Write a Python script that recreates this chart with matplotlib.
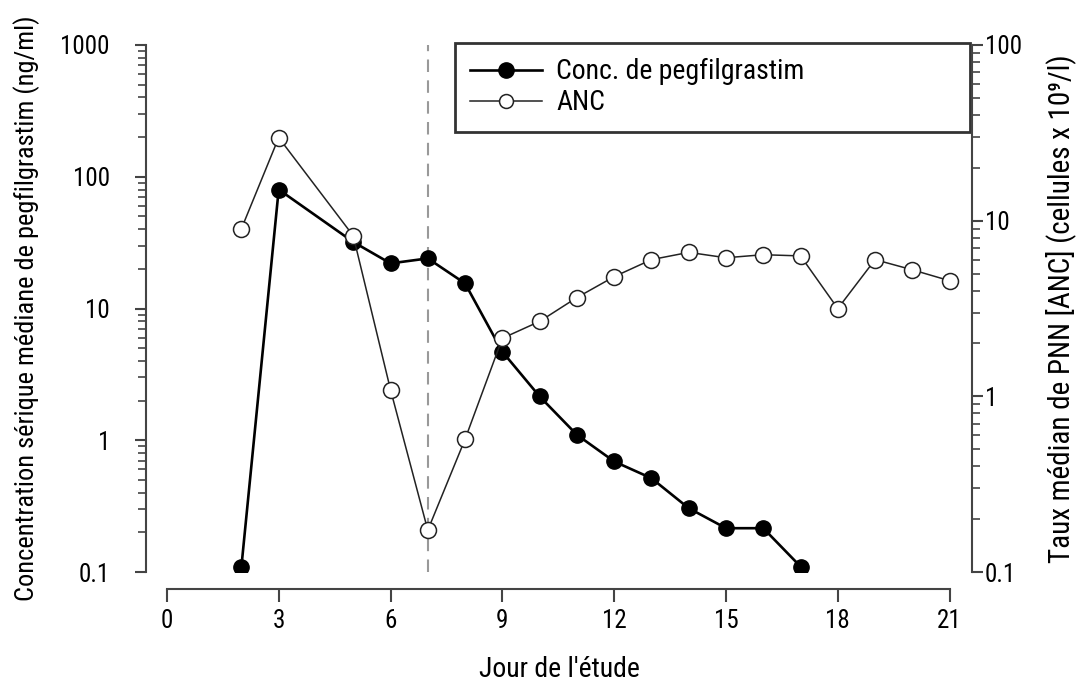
import matplotlib
matplotlib.use("Agg")
import matplotlib.pyplot as plt
from matplotlib.ticker import LogLocator, FixedLocator, FixedFormatter, NullFormatter

plt.rcParams['font.family'] = ['Roboto Condensed', 'DejaVu Sans']

# pegfilgrastim serum concentration (ng/ml)
peg_days = [2, 3, 5, 6, 7, 8, 9, 10, 11, 12, 13, 14, 15, 16, 17]
peg_conc = [0.11, 80, 32, 22, 24, 15.5, 4.7, 2.15, 1.1, 0.69, 0.515, 0.305, 0.215, 0.215, 0.11]

# ANC (x 10^9/l)
anc_days = [2, 3, 5, 6, 7, 8, 9, 10, 11, 12, 13, 14, 15, 16, 17, 18, 19, 20, 21]
anc_vals = [9.0, 29.7, 8.2, 1.09, 0.173, 0.57, 2.14, 2.67, 3.65, 4.8, 6.0, 6.6, 6.15, 6.4, 6.3, 3.16, 6.0, 5.25, 4.55]

x_ticks = [0, 3, 6, 9, 12, 15, 18, 21]
left_ticks = [0.1, 1, 10, 100, 1000]
left_labels = ['0.1', '1', '10', '100', '1000']
right_ticks = [0.1, 1, 10, 100]
right_labels = ['0.1', '1', '10', '100']

spine_col = '#444444'
fs = 18

fig = plt.figure(figsize=(10.78, 6.83), dpi=100)
ax = fig.add_axes([146/1078, 1 - 572/683, (972 - 146)/1078, (572 - 45)/683])
ax2 = ax.twinx()

ax.set_yscale('log')
ax2.set_yscale('log')
ax.set_ylim(0.1, 1000)
ax2.set_ylim(0.1, 100)
ax.set_xlim(-0.56, 21.6)

ax.axvline(7, color='#999999', lw=1.5, ls=(0, (6, 4)), zorder=1)

ax.plot(peg_days, peg_conc, color='black', lw=1.9, marker='o', ms=11,
        mfc='black', mec='black', zorder=4, label='Conc. de pegfilgrastim')
ax2.plot(anc_days, anc_vals, color='#222222', lw=1.1, marker='o', ms=11.5,
         mfc='white', mec='#222222', mew=1.1, zorder=4)
# proxy for legend
ax.plot([], [], color='#222222', lw=1.1, marker='o', ms=10, mfc='white',
        mec='#222222', mew=1.1, label='ANC')

for a in (ax, ax2):
    a.spines['top'].set_visible(False)
    for s in ('left', 'right', 'bottom'):
        a.spines[s].set_color(spine_col)
        a.spines[s].set_linewidth(1.5)
ax.spines['right'].set_visible(False)
ax2.spines['left'].set_visible(False)
ax2.spines['bottom'].set_visible(False)
ax.spines['bottom'].set_position(('outward', 12))
ax.spines['bottom'].set_bounds(0, 21)

ax.set_xticks(x_ticks)
ax.set_xticklabels([str(t) for t in x_ticks])
ax.tick_params(axis='x', direction='out', length=9, width=1.5, color=spine_col,
               labelsize=fs, pad=6)

ax.yaxis.set_major_locator(FixedLocator(left_ticks))
ax.yaxis.set_major_formatter(FixedFormatter(left_labels))
ax.yaxis.set_minor_locator(LogLocator(base=10, subs=range(2, 10)))
ax.yaxis.set_minor_formatter(NullFormatter())
ax.tick_params(axis='y', which='major', direction='out', length=8, width=1.5,
               color=spine_col, labelsize=fs, pad=18)
ax.tick_params(axis='y', which='minor', direction='out', length=6, width=1.2,
               color=spine_col)

ax2.yaxis.set_major_locator(FixedLocator(right_ticks))
ax2.yaxis.set_major_formatter(FixedFormatter(right_labels))
ax2.yaxis.set_minor_locator(LogLocator(base=10, subs=range(2, 10)))
ax2.yaxis.set_minor_formatter(NullFormatter())
ax2.tick_params(axis='y', which='major', direction='out', length=8, width=1.5,
                color=spine_col, labelsize=fs, pad=1)
ax2.tick_params(axis='y', which='minor', direction='out', length=6, width=1.2,
                color=spine_col)

ax.set_xlabel("Jour de l'étude", fontsize=20, labelpad=16)
ax.set_ylabel('Concentration sérique médiane de pegfilgrastim (ng/ml)', fontsize=19, labelpad=15)
ax2.set_ylabel('Taux médian de PNN [ANC] (cellules x 10⁹/l)', fontsize=21, labelpad=17)

leg = ax.legend(loc='upper left', bbox_to_anchor=(0.374, 0.8, 0.6236, 0.204), mode='expand',
                fontsize=20, frameon=True, fancybox=False, handlelength=2.6,
                handletextpad=0.5, borderpad=0.55, labelspacing=0.15, borderaxespad=0)
leg.get_frame().set_edgecolor('black')
leg.get_frame().set_linewidth(2)
leg.set_zorder(10)

fig.savefig('out.png', dpi=100)
